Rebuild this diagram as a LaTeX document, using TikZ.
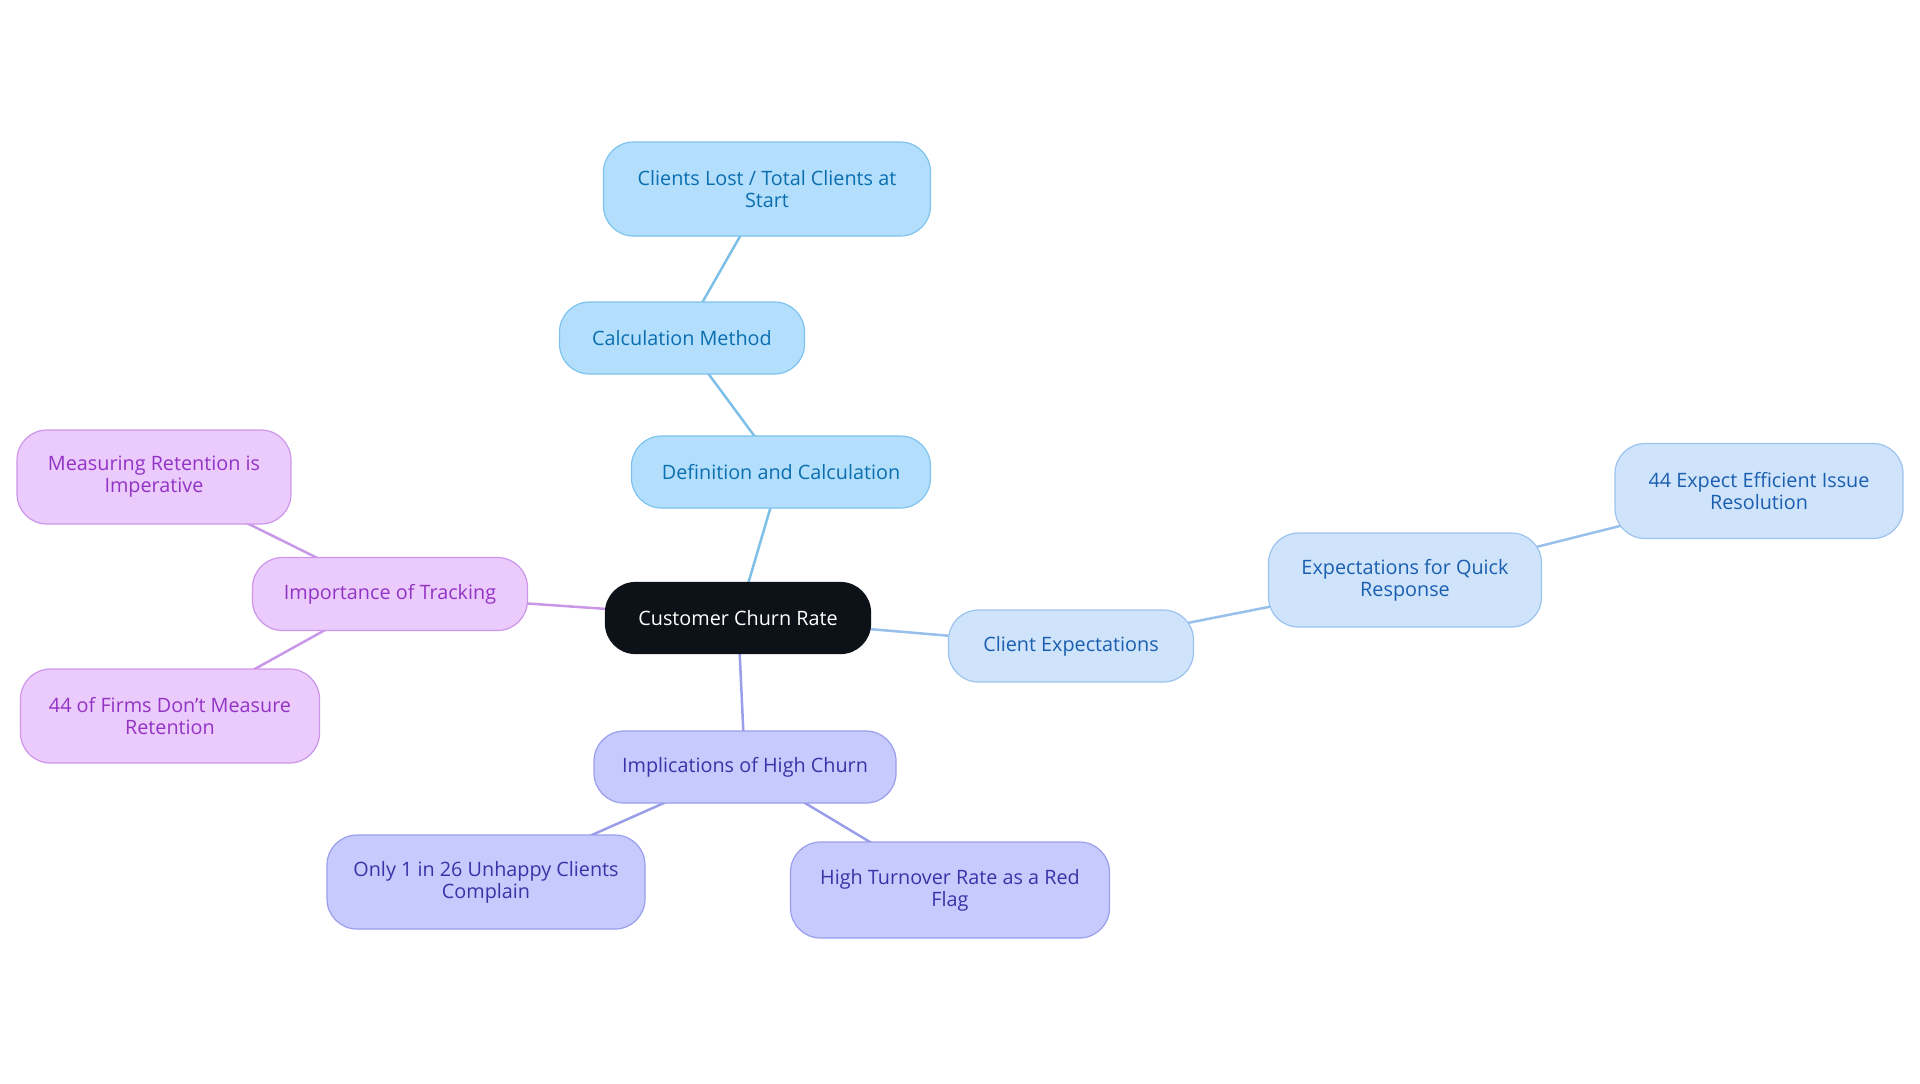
\documentclass[tikz,border=0pt]{standalone}
\usepackage{fontspec}
\setmainfont{Open Sans}
\usetikzlibrary{backgrounds}
\definecolor{bfill}{HTML}{B3DFFD}\definecolor{bdraw}{HTML}{7DC3EE}\definecolor{btext}{HTML}{0B6EAF}\definecolor{bline}{HTML}{7EBFE8}
\definecolor{lfill}{HTML}{CFE4FB}\definecolor{ldraw}{HTML}{9CC3EE}\definecolor{ltext}{HTML}{1A5EAF}\definecolor{lline}{HTML}{98C0EA}
\definecolor{pfill}{HTML}{EACBFB}\definecolor{pdraw}{HTML}{CD96EB}\definecolor{ptext}{HTML}{9333C6}\definecolor{pline}{HTML}{C997E8}
\definecolor{ifill}{HTML}{C7CAFD}\definecolor{idraw}{HTML}{9A9EEC}\definecolor{itext}{HTML}{3734A8}\definecolor{iline}{HTML}{9A9EE8}
\definecolor{rootfill}{HTML}{0D1218}
\tikzset{
  box/.style={rounded corners=15pt, line width=0.6pt, align=center, inner sep=0pt,
    font=\fontsize{9.9}{11}\selectfont},
  rootbox/.style={box, fill=rootfill, draw=rootfill, text=white},
  bbox/.style={box, fill=bfill, draw=bdraw, text=btext},
  lbox/.style={box, fill=lfill, draw=ldraw, text=ltext},
  pbox/.style={box, fill=pfill, draw=pdraw, text=ptext},
  ibox/.style={box, fill=ifill, draw=idraw, text=itext},
  edge/.style={line width=1.25pt},
}
\begin{document}
\begin{tikzpicture}[x=0.5pt,y=-0.5pt]
\useasboundingbox (0,0) rectangle (1920,1083);
\node[rootbox, minimum width=132.5pt, minimum height=35.5pt] (root) at (738,618) {Customer Churn Rate};
\node[bbox, minimum width=149.5pt, minimum height=36pt] (def) at (781,472) {Definition and Calculation};
\node[bbox, minimum width=122.5pt, minimum height=36pt] (calc) at (682,338) {Calculation Method};
\node[bbox, minimum width=163.5pt, minimum height=47pt] (lost) at (767,189) {Clients Lost / Total Clients at\\Start};
\node[lbox, minimum width=122.5pt, minimum height=36pt] (cexp) at (1071,646) {Client Expectations};
\node[lbox, minimum width=136.5pt, minimum height=47pt] (quick) at (1405,580) {Expectations for Quick\\Response};
\node[lbox, minimum width=144pt, minimum height=47.5pt] (eff) at (1759,491) {44 Expect Efficient Issue\\Resolution};
\node[pbox, minimum width=137.5pt, minimum height=36.5pt] (track) at (390,594) {Importance of Tracking};
\node[pbox, minimum width=137pt, minimum height=47pt] (meas) at (154,477) {Measuring Retention is\\Imperative};
\node[pbox, minimum width=149.5pt, minimum height=47pt] (firms) at (170,716) {44 of Firms Don't Measure\\Retention};
\node[ibox, minimum width=151pt, minimum height=36pt] (impl) at (745,767) {Implications of High Churn};
\node[ibox, minimum width=159pt, minimum height=47pt] (only) at (486,882) {Only 1 in 26 Unhappy Clients\\Complain};
\node[ibox, minimum width=159.5pt, minimum height=48pt] (turn) at (950,890) {High Turnover Rate as a Red\\Flag};
\begin{scope}[on background layer]
\draw[edge, bline] (root.center) -- (def.center);
\draw[edge, bline] (def.center) -- (calc.center);
\draw[edge, bline] (calc.center) -- (lost.center);
\draw[edge, lline] (root.center) -- (cexp.center);
\draw[edge, lline] (cexp.center) -- (quick.center);
\draw[edge, lline] (quick.center) -- (eff.center);
\draw[edge, pline] (root.center) -- (track.center);
\draw[edge, pline] (track.center) -- (meas.center);
\draw[edge, pline] (track.center) -- (firms.center);
\draw[edge, iline] (root.center) -- (impl.center);
\draw[edge, iline] (impl.center) -- (only.center);
\draw[edge, iline] (impl.center) -- (turn.center);
\end{scope}
\end{tikzpicture}
\end{document}
